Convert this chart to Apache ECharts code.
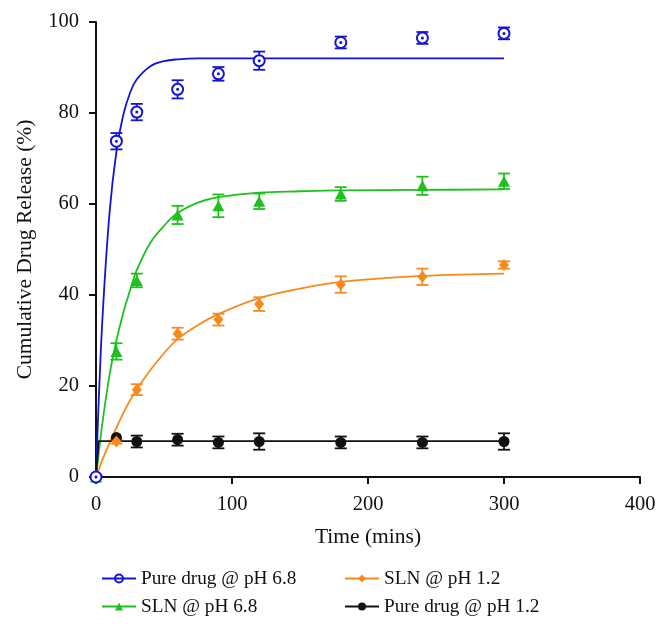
<!DOCTYPE html>
<html>
<head>
<meta charset="utf-8">
<script src="https://cdn.jsdelivr.net/npm/echarts@6/dist/echarts.min.js"></script>
<style>html,body{margin:0;padding:0;background:#fff}#c{width:670px;height:631px}</style>
</head>
<body>
<div id="c"></div>
<script>
// ---- data ----
const times = [0, 15, 30, 60, 90, 120, 180, 240, 300];
const pure68 = [0, 73.8, 80.2, 85.2, 88.6, 91.5, 95.5, 96.5, 97.5];
const pure68Err = [0, 1.8, 1.8, 2.0, 1.5, 2.0, 1.3, 1.3, 1.3];
const sln68 = [0, 27.6, 43.2, 57.6, 59.6, 60.6, 62.2, 64.0, 65.0];
const sln68Err = [0, 1.8, 1.5, 2.0, 2.5, 1.7, 1.5, 2.0, 1.7];
const sln12 = [0, 7.8, 19.2, 31.5, 34.6, 38.0, 42.3, 44.0, 46.6];
const sln12Err = [0, 0.5, 1.2, 1.3, 1.3, 1.5, 1.8, 1.8, 0.8];
const pure12 = [0, 8.7, 7.8, 8.2, 7.6, 7.8, 7.6, 7.6, 7.8];
const pure12Err = [0, 0, 1.3, 1.3, 1.3, 1.8, 1.3, 1.3, 1.8];

// fitted curves, values
const fitT = [0, 2, 5, 10, 15, 20, 25, 30, 40, 50, 60, 75, 90, 120, 150, 180, 240, 300];
const fitPure68 = [0, 16.7, 36.2, 58.2, 71.5, 79.5, 84.4, 87.4, 90.3, 91.4, 91.8, 92.0, 92.0, 92.0, 92.0, 92.0, 92.0, 92.0];
const fitSln68 = [0, 5.2, 12.5, 22.5, 30.0, 36.0, 41.0, 45.5, 51.5, 55.2, 58.0, 60.3, 61.5, 62.5, 62.8, 63.0, 63.1, 63.2];
const fitSln12 = [0, 1.6, 4.0, 7.5, 10.8, 14.0, 16.8, 19.2, 23.5, 27.2, 30.3, 33.4, 35.8, 39.3, 41.4, 42.9, 44.2, 44.7];
const fitPureT = [0, 2, 300];
const fitPure12 = [0, 7.9, 7.9];

const xTicks = [0, 100, 200, 300, 400];
const yTicks = [0, 20, 40, 60, 80, 100];

const names = ['Pure drug @ pH 6.8', 'SLN @ pH 6.8', 'SLN @ pH 1.2', 'Pure drug @ pH 1.2'];
const colors = ['#1414d6', '#1fc01f', '#f78a1d', '#111111'];

const zip = (xs, ys) => xs.map((x, i) => [x, ys[i]]);
const FONT = 'Liberation Serif';

function errSeries(vals, errs, color) {
  const data = times.map((t, i) => [t, vals[i], errs[i]]).filter(d => d[2] > 0);
  return {
    type: 'custom', silent: true, z: 4,
    data: data,
    renderItem: function (params, api) {
      const x = api.value(0), y = api.value(1), e = api.value(2);
      const hi = api.coord([x, y + e]);
      const lo = api.coord([x, y - e]);
      const w = 6;
      const st = { stroke: color, lineWidth: 1.8 };
      return {
        type: 'group', children: [
          { type: 'line', shape: { x1: hi[0], y1: hi[1], x2: lo[0], y2: lo[1] }, style: st },
          { type: 'line', shape: { x1: hi[0] - w, y1: hi[1], x2: hi[0] + w, y2: hi[1] }, style: st },
          { type: 'line', shape: { x1: lo[0] - w, y1: lo[1], x2: lo[0] + w, y2: lo[1] }, style: st }
        ]
      };
    }
  };
}

const series = [
  // fitted lines (also legend entries)
  { name: names[0], type: 'line', data: zip(fitT, fitPure68), smooth: 0.4, showSymbol: false, symbol: 'circle', symbolSize: 9,
    lineStyle: { color: colors[0], width: 1.8 }, itemStyle: { color: 'rgba(255,255,255,0)', borderColor: colors[0], borderWidth: 1.6 }, z: 2 },
  { name: names[1], type: 'line', data: zip(fitT, fitSln68), smooth: 0.4, showSymbol: false, symbol: 'triangle', symbolSize: 10,
    lineStyle: { color: colors[1], width: 1.8 }, itemStyle: { color: colors[1] }, z: 2 },
  { name: names[2], type: 'line', data: zip(fitT, fitSln12), smooth: 0.4, showSymbol: false, symbol: 'diamond', symbolSize: 10,
    lineStyle: { color: colors[2], width: 1.8 }, itemStyle: { color: colors[2] }, z: 2 },
  { name: names[3], type: 'line', data: zip(fitPureT, fitPure12), smooth: false, showSymbol: false, symbol: 'circle', symbolSize: 9,
    lineStyle: { color: colors[3], width: 1.8 }, itemStyle: { color: colors[3] }, z: 2 },
  // error bars
  errSeries(pure68, pure68Err, colors[0]),
  errSeries(sln68, sln68Err, colors[1]),
  errSeries(sln12, sln12Err, colors[2]),
  errSeries(pure12, pure12Err, colors[3]),
  // markers
  { type: 'scatter', data: zip(times, pure12), symbol: 'circle', symbolSize: 11, itemStyle: { color: colors[3], opacity: 1 }, z: 5, silent: true },
  { type: 'scatter', data: zip(times, sln12), symbol: 'diamond', symbolSize: [10, 12], itemStyle: { color: colors[2], opacity: 1 }, z: 6, silent: true },
  { type: 'scatter', data: zip(times, sln68), symbol: 'triangle', symbolSize: [12, 11], itemStyle: { color: colors[1], opacity: 1 }, z: 7, silent: true },
  { type: 'scatter', data: zip(times, pure68), symbol: 'circle', symbolSize: 11,
    itemStyle: { color: '#ffffff', borderColor: colors[0], borderWidth: 2, opacity: 1 }, z: 8, silent: true },
  { type: 'scatter', data: zip(times, pure68), symbol: 'circle', symbolSize: 3, itemStyle: { color: colors[0], opacity: 1 }, z: 9, silent: true }
];

const chart = echarts.init(document.getElementById('c'), null, { renderer: 'canvas' });
chart.setOption({
  animation: false,
  backgroundColor: '#ffffff',
  textStyle: { fontFamily: FONT },
  grid: { left: 96, right: 30, top: 22, bottom: 154, containLabel: false },
  xAxis: {
    type: 'value', min: xTicks[0], max: xTicks[xTicks.length - 1], interval: xTicks[1] - xTicks[0],
    name: 'Time (mins)', nameLocation: 'middle', nameGap: 49,
    nameTextStyle: { fontFamily: FONT, fontSize: 21.5, color: '#111' },
    axisLine: { lineStyle: { color: '#111', width: 2 } },
    axisTick: { show: true, length: 7, lineStyle: { color: '#111', width: 2 } },
    axisLabel: { fontFamily: FONT, fontSize: 20.5, color: '#111', margin: 17 },
    splitLine: { show: false }
  },
  yAxis: {
    type: 'value', min: yTicks[0], max: yTicks[yTicks.length - 1], interval: yTicks[1] - yTicks[0],
    name: 'Cumulative Drug Release (%)', nameLocation: 'middle', nameGap: 60,
    nameTextStyle: { fontFamily: FONT, fontSize: 21.5, color: '#111' },
    axisLine: { lineStyle: { color: '#111', width: 2 } },
    axisTick: { show: true, length: 7, lineStyle: { color: '#111', width: 2 } },
    axisLabel: { fontFamily: FONT, fontSize: 20.5, color: '#111', margin: 17 },
    splitLine: { show: false }
  },
  legend: [
    { data: [names[0], names[1]], orient: 'vertical', left: 96, top: 564, itemWidth: 34, itemHeight: 10, itemGap: 9,
      textStyle: { fontFamily: FONT, fontSize: 19.3, color: '#111' } },
    { data: [names[2], names[3]], orient: 'vertical', left: 339, top: 564, itemWidth: 34, itemHeight: 10, itemGap: 9,
      textStyle: { fontFamily: FONT, fontSize: 19.3, color: '#111' } }
  ],
  series: series
});
</script>
</body>
</html>
